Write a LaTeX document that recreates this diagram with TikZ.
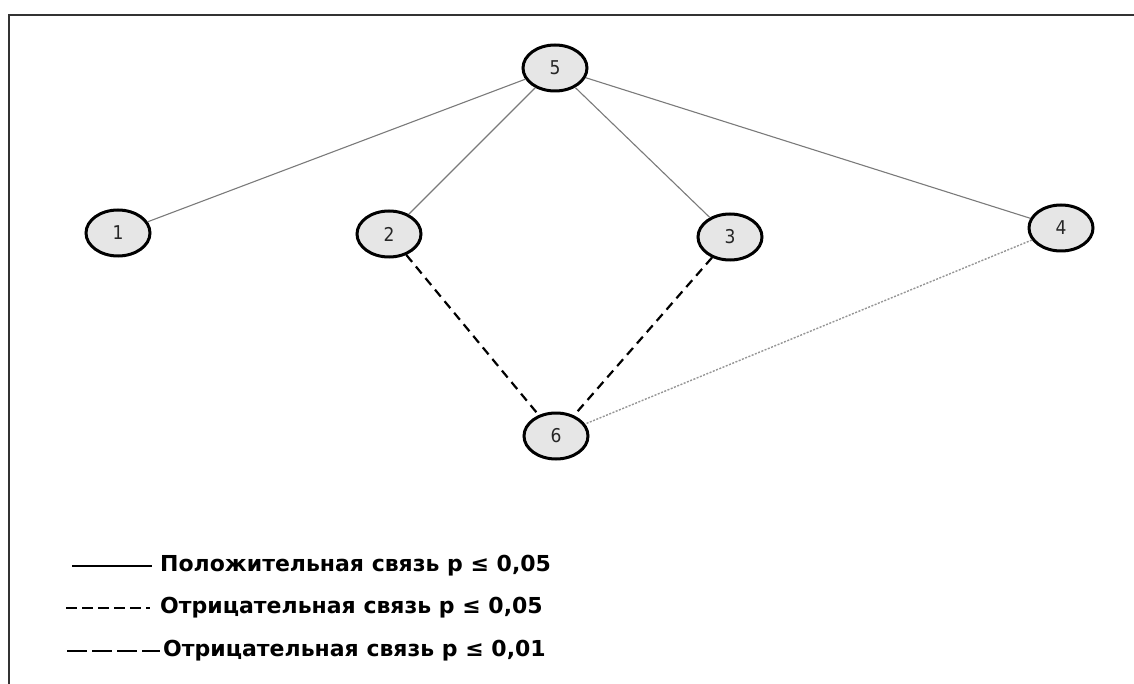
\documentclass[tikz,border=0pt]{standalone}
\usepackage{fontspec}
\setmainfont{DejaVu Sans}
\newfontfamily\numfont{DejaVu Sans Condensed}
\usetikzlibrary{shapes.geometric}
\definecolor{nodefill}{HTML}{E6E6E6}
\definecolor{edgegray}{HTML}{7A7A7A}
\definecolor{framegray}{HTML}{333333}
\tikzset{
  vtx/.style={ellipse, draw=black, line width=3pt, fill=nodefill,
    minimum width=64pt, minimum height=46pt, inner sep=0pt,
    font=\numfont\fontsize{19}{19}\selectfont, text=black!85},
  posedge/.style={draw=edgegray, line width=1.1pt},
  negstrong/.style={draw=black, line width=2.2pt, dash pattern=on 9pt off 6pt},
  negweak/.style={draw=edgegray!80, line width=1.4pt, dash pattern=on 2pt off 1.5pt},
  legtext/.style={anchor=west, font=\bfseries\fontsize{22}{22}\selectfont, inner sep=0pt},
}
\begin{document}
\begin{tikzpicture}[x=1pt,y=-1pt]
\useasboundingbox (0,0) rectangle (1134,684);
\draw[framegray, line width=1.6pt] (9,684) -- (9,15) -- (1134,15);
\node[vtx] (n5) at (555,68) {5};
\node[vtx] (n1) at (118,233) {1};
\node[vtx] (n2) at (389,234) {2};
\node[vtx] (n3) at (730,237) {3};
\node[vtx] (n4) at (1061,228) {4};
\node[vtx] (n6) at (556,436) {6};
\draw[posedge] (n5) -- (n1);
\draw[posedge] (n5) -- (n2);
\draw[posedge] (n5) -- (n3);
\draw[posedge] (n5) -- (n4);
\draw[negstrong] (n2) -- (n6);
\draw[negstrong] (n3) -- (n6);
\draw[negweak] (n4) -- (n6);
% legend
\coordinate (l1a) at (72,566); \coordinate (l1b) at (152,566);
\coordinate (l2a) at (66,608); \coordinate (l2b) at (150,608);
\coordinate (l3a) at (67,651); \coordinate (l3b) at (160,651);
\draw[black, line width=1.4pt] (l1a) -- (l1b);
\draw[black, line width=1.2pt, dash pattern=on 11pt off 5pt] (l2a) -- (l2b);
\draw[black, line width=2.2pt, dash pattern=on 20pt off 5pt] (l3a) -- (l3b);
\node[legtext] (t1) at (160,566) {Положительная связь р ≤ 0,05};
\node[legtext] (t2) at (160,608) {Отрицательная связь р ≤ 0,05};
\node[legtext] (t3) at (163,651) {Отрицательная связь р ≤ 0,01};
\end{tikzpicture}
\end{document}
